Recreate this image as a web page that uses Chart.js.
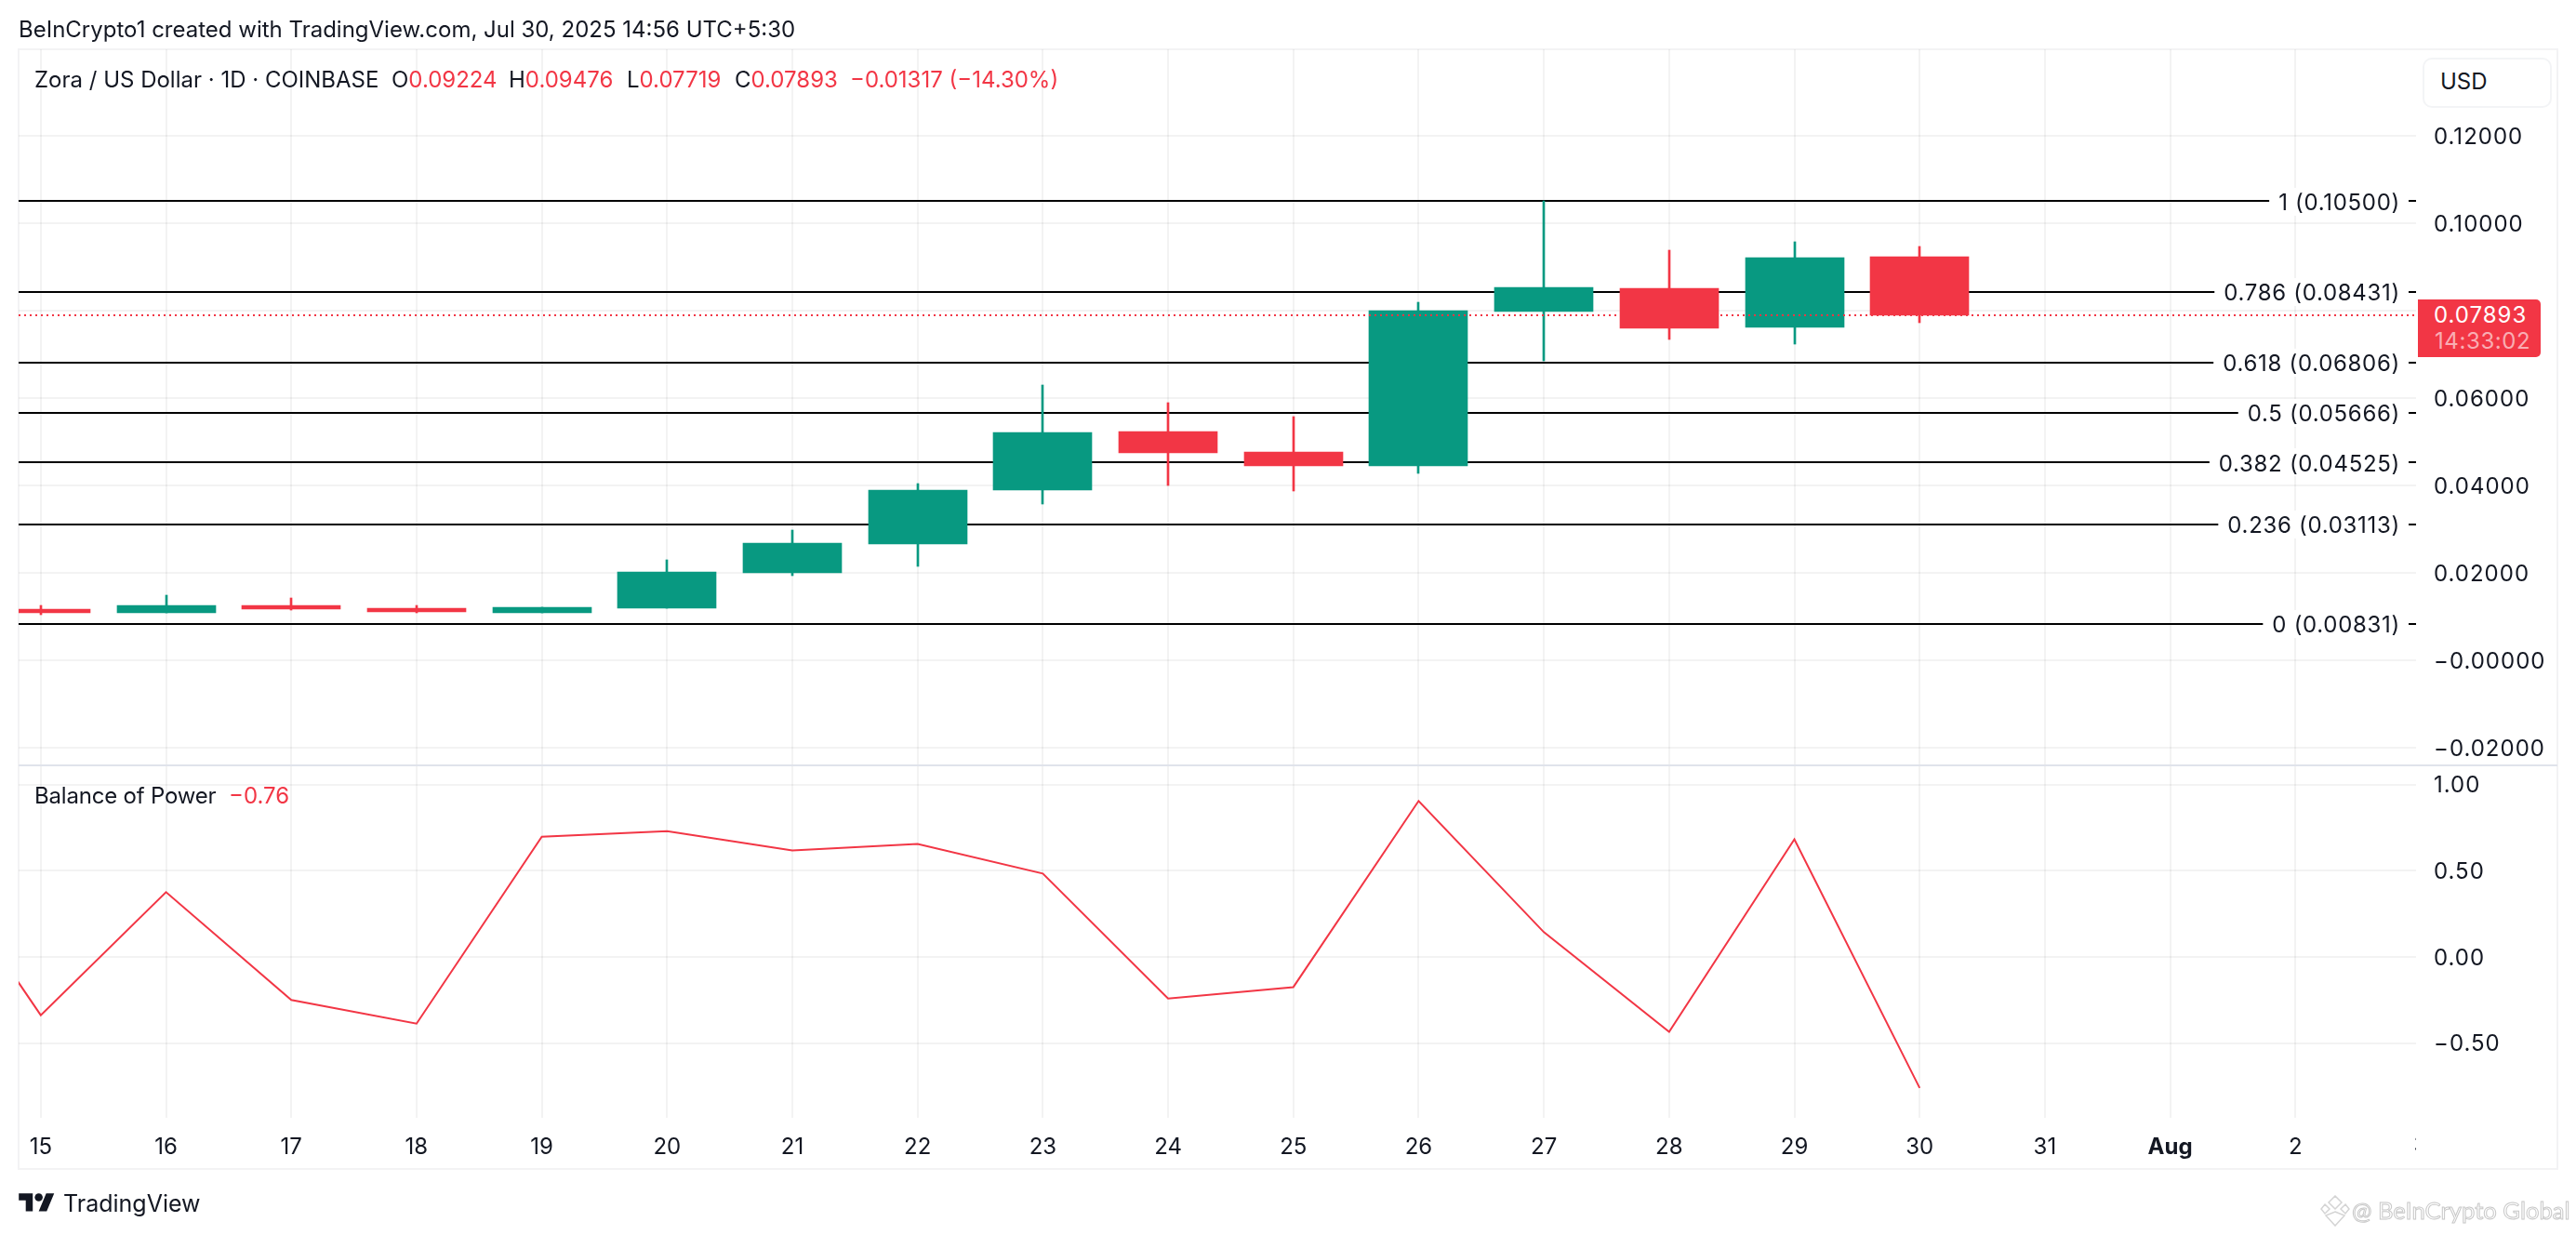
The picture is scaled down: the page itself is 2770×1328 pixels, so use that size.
<!DOCTYPE html>
<html><head><meta charset="utf-8">
<script src="https://cdn.jsdelivr.net/npm/chart.js@4"></script>
<style>
html,body{margin:0;padding:0;background:#fff;width:2770px;height:1328px;overflow:hidden}
body{position:relative;font-family:Inter,sans-serif;color:#131722}
canvas{position:absolute;left:0;top:0}
.t{position:absolute;white-space:pre;line-height:1;font-size:24px}
.r{color:#f23645}
</style></head><body>
<canvas id="c" width="2770" height="1328"></canvas>
<div class="t" style="left:20px;top:20px">BeInCrypto1 created with TradingView.com, Jul 30, 2025 14:56 UTC+5:30</div>
<div class="t" style="left:37px;top:74px">Zora / US Dollar · 1D · COINBASE</div>
<div class="t" style="left:421px;top:74px">O<span class="r">0.09224</span></div>
<div class="t" style="left:547px;top:74px">H<span class="r">0.09476</span></div>
<div class="t" style="left:674px;top:74px">L<span class="r">0.07719</span></div>
<div class="t" style="left:790px;top:74px">C<span class="r">0.07893</span></div>
<div class="t r" style="left:914px;top:74px">−0.01317 (−14.30%)</div>
<div class="t" style="left:37px;top:844px;letter-spacing:-.2px">Balance of Power</div>
<div class="t r" style="left:246px;top:844px">−0.76</div>
<div style="position:absolute;left:2605px;top:62px;width:135px;height:50px;border:2px solid #f3f4f6;border-radius:10px;background:#fff"></div>
<div class="t" style="left:2624px;top:76px">USD</div>
<div style="position:absolute;left:2600px;top:322px;width:132px;height:62px;background:#f23645;border-radius:0 5px 5px 0"></div>
<div class="t" style="left:2617px;top:327px;color:#fff;letter-spacing:1px">0.07893</div>
<div class="t" style="left:2618px;top:355px;color:rgba(255,255,255,.6);letter-spacing:.6px">14:33:02</div>
<svg style="position:absolute;left:20px;top:1279px" width="39" height="30" viewBox="0 0 36 28"><path fill="#131722" d="M14 22H7V11H0V4h14v18zM28 22h-8l7.5-18h8L28 22z"/><circle fill="#131722" cx="20" cy="8" r="4"/></svg>
<div class="t" style="left:68px;top:1282px;font-size:25px">TradingView</div>
<svg style="position:absolute;left:2495px;top:1285px" width="32" height="34" viewBox="0 0 32 34" fill="none" stroke="#d4d4d4" stroke-width="1.5"><path d="M16 1l7 7-7 7-7-7zM5 10l5 5-5 5-4-5zM27 10l4 5-4 5-5-5zM16 18l10 4-10 11L6 22z"/></svg>
<div class="t" style="left:2529px;top:1289px;font-size:25.6px;font-family:Lato,sans-serif;color:#fff;-webkit-text-stroke:1px #c8c8c8">@ BeInCrypto Global</div>
<script>
const dayLabels=['15','16','17','18','19','20','21','22','23','24','25','26','27','28','29','30','31','Aug','2','3'];
const opens =[0.01170,0.01085,0.01255,0.01191,0.01085,0.01191,0.02000,0.02660,0.03894,0.05234,0.04766,0.04447,0.07979,0.08511,0.07617,0.09224];
const highs =[0.01255,0.01489,0.01426,0.01255,0.01213,0.02298,0.02979,0.04043,0.06298,0.05894,0.05574,0.08191,0.10500,0.09383,0.09574,0.09476];
const lows  =[0.01043,0.01085,0.01155,0.01085,0.01085,0.01191,0.01936,0.02149,0.03574,0.04000,0.03872,0.04277,0.06851,0.07340,0.07234,0.07719];
const closes=[0.01085,0.01255,0.01170,0.01106,0.01213,0.02021,0.02681,0.03894,0.05213,0.04745,0.04447,0.08000,0.08532,0.07596,0.09213,0.07893];
const bopDays=[-1,0,1,2,3,4,5,6,7,8,9,10,11,12,13,14,15];
const bopValues=[0.73,-0.338,0.376,-0.250,-0.387,0.698,0.730,0.618,0.656,0.484,-0.241,-0.175,0.905,0.144,-0.435,0.683,-0.76];
const fibRatios=['1','0.786','0.618','0.5','0.382','0.236','0'];
const fibValues=[0.10500,0.08431,0.06806,0.05666,0.04525,0.03113,0.00831];
const lastClose=0.07893;
const priceTicks=[0.12,0.10,0.08,0.06,0.04,0.02,0,-0.02];
const priceTickLabels=['0.12000','0.10000','','0.06000','0.04000','0.02000','−0.00000','−0.02000'];
const bopTicks=[1,0.5,0,-0.5];
const bopTickLabels=['1.00','0.50','0.00','−0.50'];
const GREEN='#089981',RED='#f23645',GRID='rgba(46,46,46,0.06)';
const FONT='Inter, sans-serif';
const xMin=-0.177,xMax=18.963;
const dayIdx=opens.map((_,i)=>i);
const candleColors=opens.map((o,i)=>closes[i]>=o?GREEN:RED);

function spacedLabels(scale){
  const orig=scale.drawLabels.bind(scale);
  scale.drawLabels=function(area){
    const c=scale.ctx;c.save();c.translate(0,1.5);c.letterSpacing='1px';orig(area);c.restore();
  };
}
const deco={id:'deco',
 beforeDraw(ch){
  const c=ch.ctx;
  if(!ch.$wrapped){spacedLabels(ch.scales.y);spacedLabels(ch.scales.yb);ch.$wrapped=true;}
  c.save();c.strokeStyle='#f3f3f4';c.lineWidth=2;c.strokeRect(20,53,2730,1204);c.restore();
 },
 beforeDatasetsDraw(ch){
  ch.data.datasets.forEach((d,i)=>{
    if(d.yAxisID!=='y')return;
    ch.getDatasetMeta(i).data.forEach(p=>{
      p.y=Math.round(p.y-0.1);
      if(d.type==='bar'){p.x=Math.round(p.x);p.base=Math.round(p.base-0.1);}
    });
  });
 },
 afterDatasetsDraw(ch){
  const c=ch.ctx,y=ch.scales.y;
  c.save();
  c.font='24px '+FONT;c.letterSpacing='0.7px';c.textBaseline='middle';c.textAlign='right';
  fibValues.forEach((v,i)=>{
    const py=y.getPixelForValue(v),txt=fibRatios[i]+' ('+v.toFixed(5)+')',w=c.measureText(txt).width;
    c.fillStyle='#fff';c.fillRect(2581-w-10,Math.round(py)-15,w+19,30);
    c.fillStyle='#131722';c.fillText(txt,2581,py+2);
  });
  c.restore();
 },
 afterDraw(ch){
  const c=ch.ctx,a=ch.chartArea,x=ch.scales.x;
  c.save();
  c.fillStyle='#e0e3eb';c.fillRect(20,822,2730,2);
  c.beginPath();c.rect(0,1204,a.right,60);c.clip();
  c.font='24px '+FONT;c.textAlign='center';c.textBaseline='middle';c.fillStyle='#131722';
  c.fillText(dayLabels[19],x.getPixelForValue(19),1232);
  c.restore();
 }
};

const datasets=[];
fibValues.forEach((v,i)=>datasets.push({type:'line',label:'Fib '+fibRatios[i],data:[{x:xMin,y:v},{x:xMax,y:v}],xAxisID:'x',yAxisID:'y',borderColor:'#000',borderWidth:2,pointRadius:0,order:5}));
datasets.push({type:'bar',label:'Wick',data:dayIdx.map(i=>({x:i,y:[lows[i],highs[i]]})),xAxisID:'x',yAxisID:'y',backgroundColor:candleColors,barThickness:2,grouped:false,order:4});
datasets.push({type:'bar',label:'Body',data:dayIdx.map(i=>({x:i,y:[opens[i],closes[i]]})),xAxisID:'x',yAxisID:'y',backgroundColor:candleColors,barThickness:106,grouped:false,order:3});
datasets.push({type:'line',label:'Last',data:[{x:xMin,y:lastClose},{x:xMax,y:lastClose}],xAxisID:'x',yAxisID:'y',borderColor:RED,borderWidth:2,borderDash:[2,4],pointRadius:0,order:2});
datasets.push({type:'line',label:'Balance of Power',data:bopDays.map((d,i)=>({x:d,y:bopValues[i]})),xAxisID:'x',yAxisID:'yb',borderColor:RED,borderWidth:2,pointRadius:0,tension:0,order:1});

new Chart(document.getElementById('c'),{
 type:'line',
 data:{datasets},
 plugins:[deco],
 options:{
  responsive:false,animation:false,devicePixelRatio:1,
  layout:{padding:{left:20,top:53,right:20,bottom:71}},
  plugins:{legend:{display:false},tooltip:{enabled:false}},
  scales:{
   x:{type:'linear',min:xMin,max:xMax,offset:false,position:'bottom',
      afterBuildTicks:s=>{s.ticks=dayLabels.slice(0,19).map((_,i)=>({value:i}));},
      afterFit:s=>{s.height=55;},
      grid:{color:GRID,lineWidth:2,drawTicks:false,offset:false},border:{display:false},
      ticks:{autoSkip:false,maxRotation:0,padding:17,color:'#131722',
       font:c=>({family:FONT,size:24,weight:dayLabels[c.index]==='Aug'?'700':'400'}),
       callback:(v,i)=>dayLabels[i]}},
   y:{type:'linear',position:'right',stack:'p',stackWeight:770,min:-0.02404,max:0.13979,
      afterBuildTicks:s=>{s.ticks=priceTicks.map(v=>({value:v}));},
      afterFit:s=>{s.width=152;},
      grid:{color:GRID,lineWidth:2,drawTicks:false},border:{display:false},
      ticks:{autoSkip:false,crossAlign:'near',padding:19,color:'#131722',font:{family:FONT,size:24},
       callback:(v,i)=>priceTickLabels[i]}},
   yb:{type:'linear',position:'right',stack:'p',stackWeight:379,min:-0.9336,max:1.1117,
      afterBuildTicks:s=>{s.ticks=bopTicks.map(v=>({value:v}));},
      afterFit:s=>{s.width=152;},
      grid:{color:GRID,lineWidth:2,drawTicks:false},border:{display:false},
      ticks:{autoSkip:false,crossAlign:'near',padding:19,color:'#131722',font:{family:FONT,size:24},
       callback:(v,i)=>bopTickLabels[i]}}
  }
 }
});
</script>
</body></html>
